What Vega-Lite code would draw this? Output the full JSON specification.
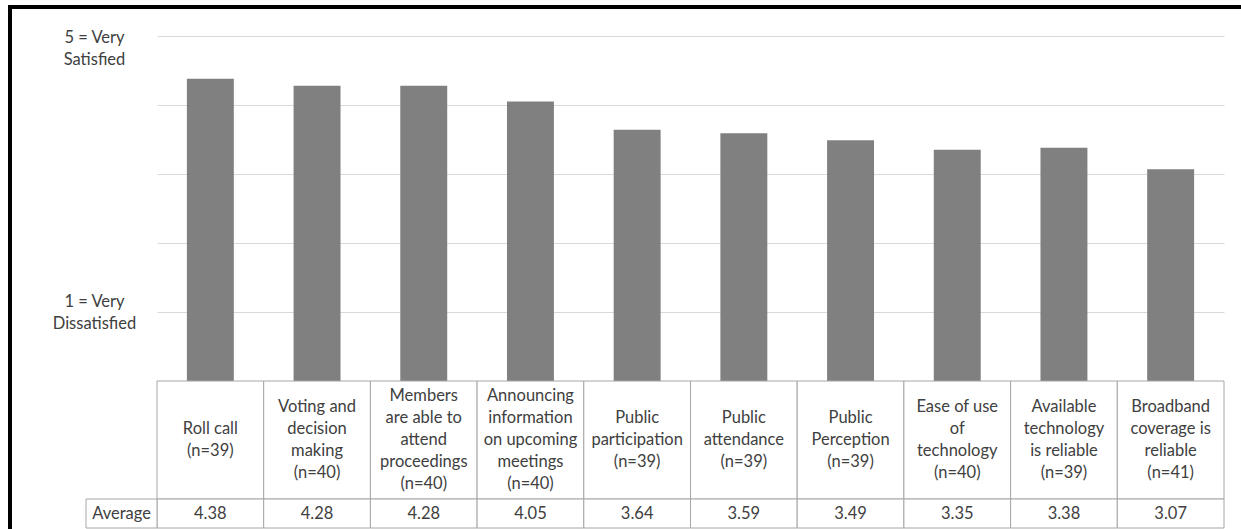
{
  "$schema": "https://vega.github.io/schema/vega-lite/v6.json",
  "autosize": "none",
  "padding": {"left": 10, "top": 7, "right": 0, "bottom": 0},
  "width": 1231,
  "height": 522,
  "background": "white",
  "config": {
    "view": {"stroke": "#000000", "strokeWidth": 4, "strokeDash": [1231, 1753, 522, 1]},
    "font": "Lato",
    "axisY": {
      "grid": true,
      "gridColor": "#d9d9d9",
      "title": null,
      "labelAlign": "center",
      "labelBaseline": "alphabetic",
      "labelPadding": -84,
      "ticks": false,
      "domain": false,
      "labelLineHeight": 22,
      "labelFontSize": 16.5,
      "labelFont": "Lato",
      "labelColor": "#404040",
      "labelOverlap": false,
      "labelBound": false
    }
  },
  "datasets": {
    "items": [
      {"label": "Roll call\n(n=39)", "lines": 2, "avg": 4.38},
      {"label": "Voting and\ndecision\nmaking\n(n=40)", "lines": 4, "avg": 4.28},
      {"label": "Members\nare able to\nattend\nproceedings\n(n=40)", "lines": 5, "avg": 4.28},
      {"label": "Announcing\ninformation\non upcoming\nmeetings\n(n=40)", "lines": 5, "avg": 4.05},
      {"label": "Public\nparticipation\n(n=39)", "lines": 3, "avg": 3.64},
      {"label": "Public\nattendance\n(n=39)", "lines": 3, "avg": 3.59},
      {"label": "Public\nPerception\n(n=39)", "lines": 3, "avg": 3.49},
      {"label": "Ease of use\nof\ntechnology\n(n=40)", "lines": 4, "avg": 3.35},
      {"label": "Available\ntechnology\nis reliable\n(n=39)", "lines": 4, "avg": 3.38},
      {"label": "Broadband\ncoverage is\nreliable\n(n=41)", "lines": 4, "avg": 3.07}
    ],
    "rowhead": [{"row": "Average"}]
  },
  "layer": [
    {
      "data": {"name": "items"},
      "mark": {"type": "bar", "color": "#808080", "width": {"band": 0.44}},
      "encoding": {
        "x": {
          "field": "label", "type": "nominal", "sort": null,
          "scale": {"range": [147, 1214], "paddingInner": 0, "paddingOuter": 0},
          "axis": null
        },
        "y": {
          "field": "avg", "type": "quantitative",
          "scale": {"domain": [-2.13, 5], "range": [521, 29], "nice": false, "zero": false},
          "axis": {
            "values": [1, 2, 3, 4, 5],
            "title": null,
            "labelExpr": "datum.value == 5 ? ['5 = Very', 'Satisfied'] : datum.value == 1 ? ['1 = Very', 'Dissatisfied'] : ''",
            "labelOffset": {"condition": {"test": "datum.value == 1", "value": -6}, "value": 6}
          }
        },
        "y2": {"datum": 0}
      }
    },
    {
      "data": {"name": "items"},
      "mark": {"type": "rect", "fill": "white", "stroke": "#a6a6a6", "strokeWidth": 1},
      "encoding": {
        "x": {"field": "label", "type": "nominal", "sort": null, "scale": {"range": [147, 1214], "paddingInner": 0, "paddingOuter": 0}, "axis": null},
        "y": {"datum": 0, "type": "quantitative"},
        "y2": {"datum": -1.71}
      }
    },
    {
      "data": {"name": "items"},
      "mark": {"type": "rect", "fill": "white", "stroke": "#a6a6a6", "strokeWidth": 1},
      "encoding": {
        "x": {"field": "label", "type": "nominal", "sort": null, "scale": {"range": [147, 1214], "paddingInner": 0, "paddingOuter": 0}, "axis": null},
        "y": {"datum": -1.71, "type": "quantitative"},
        "y2": {"datum": -2.13}
      }
    },
    {
      "data": {"name": "items"},
      "mark": {"type": "text", "lineBreak": "\n", "lineHeight": 22, "fontSize": 16.5, "color": "#404040", "baseline": "middle", "align": "center", "font": "Lato"},
      "encoding": {
        "x": {"field": "label", "type": "nominal", "sort": null, "scale": {"type": "band", "range": [147, 1214], "paddingInner": 0, "paddingOuter": 0}, "axis": null},
        "y": {"datum": -0.855, "type": "quantitative"},
        "yOffset": {"field": "lines", "type": "quantitative", "scale": {"domain": [2, 5], "range": [-11, -44]}},
        "text": {"field": "label", "type": "nominal"}
      }
    },
    {
      "data": {"name": "items"},
      "mark": {"type": "text", "fontSize": 16.5, "color": "#404040", "baseline": "middle", "align": "center", "font": "Lato"},
      "encoding": {
        "x": {"field": "label", "type": "nominal", "sort": null, "scale": {"type": "band", "range": [147, 1214], "paddingInner": 0, "paddingOuter": 0}, "axis": null},
        "y": {"datum": -1.92, "type": "quantitative"},
        "text": {"field": "avg", "type": "quantitative", "format": ".2f"}
      }
    },
    {
      "data": {"name": "rowhead"},
      "mark": {"type": "rect", "fill": "white", "stroke": "#a6a6a6", "strokeWidth": 1},
      "encoding": {
        "x": {
          "field": "row", "type": "nominal",
          "scale": {"domain": ["Average"], "range": [76, 147], "paddingInner": 0, "paddingOuter": 0},
          "axis": null
        },
        "y": {"datum": -1.71, "type": "quantitative"},
        "y2": {"datum": -2.13}
      }
    },
    {
      "data": {"name": "rowhead"},
      "mark": {"type": "text", "fontSize": 16.5, "color": "#404040", "baseline": "middle", "align": "center", "font": "Lato"},
      "encoding": {
        "x": {"field": "row", "type": "nominal", "scale": {"type": "band", "domain": ["Average"], "range": [76, 147], "paddingInner": 0, "paddingOuter": 0}, "axis": null},
        "y": {"datum": -1.92, "type": "quantitative"},
        "text": {"field": "row", "type": "nominal"}
      }
    }
  ],
  "resolve": {"scale": {"x": "independent"}}
}
